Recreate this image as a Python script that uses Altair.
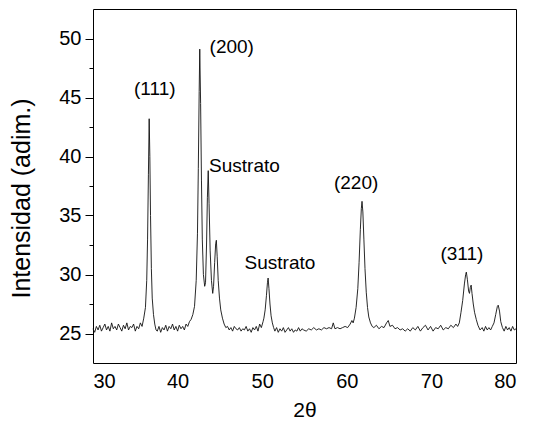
import altair as alt
import pandas as pd

# 2-theta (degrees) and intensity
two_theta = [
    30.0, 30.2, 30.4, 30.6, 30.8, 31.0, 31.2, 31.4, 31.6, 31.8, 32.0, 32.2, 32.4, 32.6, 32.8,
    33.0, 33.2, 33.4, 33.6, 33.8, 34.0, 34.2, 34.4, 34.6, 34.8, 35.0, 35.2, 35.4, 35.6,
    35.8, 36.0, 36.2, 36.35, 36.45, 36.55, 36.64, 36.72, 36.8, 36.9, 37.0, 37.15, 37.3, 37.45,
    37.6, 37.8, 38.0, 38.2, 38.4, 38.6, 38.8, 39.0, 39.2, 39.4, 39.6, 39.8, 40.0, 40.2, 40.4,
    40.6, 40.8, 41.0, 41.2, 41.4, 41.6, 41.8,
    42.0, 42.2, 42.35, 42.45, 42.55, 42.62, 42.72, 42.82, 42.92, 43.05, 43.2, 43.3, 43.42,
    43.52, 43.62, 43.72, 43.85, 44.0, 44.15, 44.25, 44.38, 44.5, 44.58, 44.68, 44.8, 44.95,
    45.1, 45.3, 45.5, 45.7,
    45.9, 46.1, 46.3, 46.5, 46.7, 46.9, 47.1, 47.3, 47.5, 47.7, 47.9, 48.1, 48.3, 48.5, 48.7,
    48.9, 49.1, 49.3, 49.5, 49.7, 49.9, 50.1,
    50.2, 50.35, 50.5, 50.62, 50.7, 50.8, 50.92, 51.05, 51.2, 51.35,
    51.5, 51.7, 51.9, 52.1, 52.3, 52.5, 52.7, 52.9, 53.1, 53.3, 53.5, 53.7, 53.9, 54.1, 54.3,
    54.5, 54.7, 54.9, 55.2, 55.5, 55.8, 56.1, 56.4, 56.7, 57.0, 57.3, 57.6, 57.9, 58.2, 58.4,
    58.6, 58.9, 59.2, 59.5, 59.8, 60.1, 60.4, 60.6, 60.75,
    60.9, 61.1, 61.3, 61.45, 61.6, 61.72, 61.8, 61.9, 62.02, 62.15, 62.3, 62.45, 62.6, 62.8, 63.0,
    63.2, 63.5, 63.8, 64.1, 64.4, 64.7, 64.9, 65.1, 65.4, 65.7, 66.0, 66.3, 66.6, 66.9, 67.2,
    67.5, 67.8, 68.1, 68.4, 68.7, 69.0, 69.3, 69.6, 69.9, 70.2, 70.5, 70.8, 71.1, 71.4, 71.7,
    72.0, 72.3, 72.6, 72.9, 73.1,
    73.3, 73.5, 73.7, 73.9, 74.05, 74.13, 74.25, 74.4, 74.5, 74.6, 74.7, 74.8, 74.95, 75.1,
    75.3, 75.5, 75.75, 76.0, 76.2, 76.4, 76.6, 76.8, 77.0, 77.2, 77.4, 77.6, 77.8, 77.9, 78.05,
    78.2, 78.4, 78.6, 78.8, 79.0, 79.2, 79.4, 79.6, 79.8, 80.0,
]
intensity = [
    25.4, 25.1, 25.6, 25.3, 25.7, 25.2, 25.5, 25.8, 25.3, 25.6, 25.2, 25.9, 25.4, 25.6, 25.3,
    25.8, 25.5, 25.2, 25.7, 25.4, 25.9, 25.3, 25.6, 25.5, 25.8, 25.2, 25.6, 25.4, 25.9,
    25.6, 26.3, 27.2, 29.5, 33.0, 38.5, 43.2, 40.0, 35.0, 30.5, 28.0, 26.6, 25.8, 25.3,
    25.2, 25.6, 25.1, 25.5, 25.3, 25.7, 25.2, 25.6, 25.4, 25.8, 25.3, 25.6, 25.2, 25.7, 25.4,
    25.6, 25.3, 25.8, 25.6, 26.0, 26.2, 26.6,
    27.3, 29.5, 33.5, 39.0, 45.5, 49.1, 44.5, 38.0, 33.0, 30.0, 29.0, 29.3, 32.5,
    36.5, 38.8, 36.0, 32.0, 29.5, 28.4, 29.0, 31.0, 32.6, 32.9, 31.5, 29.5, 28.0,
    27.0, 26.3, 25.8, 25.5,
    25.6, 25.3, 25.5, 25.2, 25.6, 25.4, 25.3, 25.5, 25.2, 25.4, 25.3, 25.6, 25.2, 25.4, 25.1,
    25.5, 25.3, 25.6, 25.2, 25.8, 25.5, 26.0,
    26.3, 27.0, 28.2, 29.3, 29.7, 28.8, 27.5, 26.5, 25.9, 25.5,
    25.2, 25.5, 25.1, 25.4, 25.2, 25.5, 25.1, 25.3, 25.5, 25.2, 25.4, 25.1, 25.3, 25.2, 25.5,
    25.2, 25.4, 25.3, 25.2, 25.4, 25.3, 25.5, 25.3, 25.4, 25.3, 25.5, 25.4, 25.5, 25.4, 25.9,
    25.4, 25.5, 25.4, 25.5, 25.6, 25.5, 25.8, 26.1, 25.9,
    26.3, 27.2, 28.8, 31.0, 33.8, 35.6, 36.2, 35.3, 33.0, 30.5, 28.5, 27.2, 26.4, 25.9, 25.6,
    25.5, 25.7, 25.4, 25.6, 25.5, 25.9, 26.1, 25.6, 25.7, 25.4, 25.5, 25.3, 25.4, 25.2, 25.4,
    25.2, 25.5, 25.3, 25.6, 25.2, 25.5, 25.7, 25.3, 25.6, 25.2, 25.5, 25.4, 25.7, 25.3, 25.5,
    25.4, 25.7, 25.5, 25.8, 25.6,
    25.9, 26.8, 27.8, 29.2, 30.0, 30.2, 29.6, 28.6, 28.4, 28.9, 29.1, 28.4, 27.5, 26.8,
    26.2, 25.7, 25.3, 25.5, 25.2, 25.6, 25.3, 25.5, 25.3, 25.6, 25.9, 26.6, 27.3, 27.4, 26.9,
    26.0, 25.5, 25.2, 25.6, 25.3, 25.5, 25.2, 25.6, 25.3, 25.4,
]

label_text = ["(111)", "(200)", "Sustrato", "Sustrato", "(220)", "(311)"]
label_x = [37.3, 46.4, 47.9, 52.1, 61.1, 73.6]
label_y = [45.7, 49.3, 39.2, 31.0, 37.75, 31.75]

x_ticks = [30, 40, 50, 60, 70, 80]
y_major = [25, 30, 35, 40, 45, 50]
y_minor = [27.5, 32.5, 37.5, 42.5, 47.5]

FONT = "Liberation Sans"

df = pd.DataFrame({"two_theta": two_theta, "intensity": intensity})
df_lab = pd.DataFrame({"t": label_text, "x": label_x, "y": label_y})
df_minor = pd.DataFrame({"v": y_minor})

xscale = alt.Scale(domain=[30, 80], nice=False, zero=False)
yscale = alt.Scale(domain=[22.5, 52.5], nice=False, zero=False)

x_axis = alt.Axis(
    values=x_ticks, title="2θ", grid=False, domain=False, ticks=False,
    labelFontSize=20, labelFont=FONT, labelColor="black", labelPadding=8,
    titleFontSize=21, titleFont=FONT, titleFontWeight="normal", titleColor="black",
    titleBaseline="alphabetic", titleY=53,
)

line = alt.Chart(df).mark_line(color="#111111", strokeWidth=0.9).encode(
    x=alt.X("two_theta:Q", scale=xscale, axis=x_axis),
    y=alt.Y(
        "intensity:Q",
        scale=yscale,
        axis=alt.Axis(
            orient="left", values=y_major, title="Intensidad (adim.)", grid=False,
            domain=False, tickSize=8, tickColor="black", tickWidth=1,
            labelFontSize=20, labelFont=FONT, labelColor="black", labelPadding=4,
            titleFontSize=25, titleFont=FONT, titleFontWeight="normal", titleColor="black",
            titleX=-59, titleY=189,
        ),
    ),
)

minor = alt.Chart(df_minor).mark_point(opacity=0).encode(
    y=alt.Y(
        "v:Q",
        scale=yscale,
        axis=alt.Axis(
            orient="left", values=y_minor, labels=False, title=None, grid=False,
            domain=False, tickSize=4, tickColor="black", tickWidth=1,
        ),
    ),
)

labels = alt.Chart(df_lab).mark_text(
    font=FONT, fontSize=19, color="black", align="center", baseline="middle"
).encode(
    x=alt.X("x:Q", scale=xscale, axis=x_axis),
    y=alt.Y("y:Q", scale=yscale, axis=None),
    text="t:N",
)

chart = (
    alt.layer(line, minor, labels)
    .resolve_axis(y="independent")
    .properties(
        width=423,
        height=354,
        background="white",
        autosize=alt.AutoSizeParams(type="none"),
        padding={"left": 85, "top": 1, "right": 10, "bottom": 57},
    )
    .configure_view(stroke="black", strokeWidth=1)
)

chart.save("out.html", embed_options={"renderer": "svg", "actions": False})
